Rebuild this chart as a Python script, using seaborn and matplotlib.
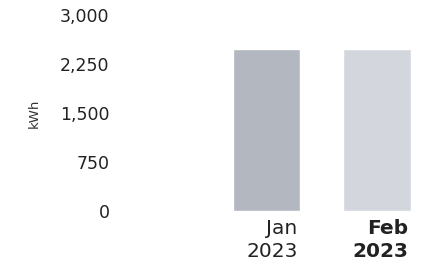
import matplotlib
matplotlib.use("Agg")
import matplotlib.pyplot as plt
import matplotlib.transforms as mtransforms
import seaborn as sns
import pandas as pd

months = ["Jan\n2023", "Feb\n2023"]
usage_kwh = [2480, 2475]
bar_colors = ["#b3b7c0", "#d3d6dd"]
y_ticks = [0, 750, 1500, 2250, 3000]

df = pd.DataFrame({"month": months, "kwh": usage_kwh})

sns.set_theme(style="white")
plt.rcParams["font.family"] = ["DejaVu Sans"]

fig = plt.figure(figsize=(4.21, 2.70), dpi=100)
# axes placed in pixel terms: left 118, right 421, zero line at y=211, 3000 at y=15
ax = fig.add_axes([118 / 421, (270 - 211) / 270, (421 - 118) / 421, (211 - 15) / 270])

sns.barplot(data=df, x="month", y="kwh", hue="month", palette=bar_colors,
            width=0.61, legend=False, ax=ax, saturation=1)

ax.set_ylim(0, 3000)
ax.set_xlim(-1.35, 1.40)
ax.set_yticks(y_ticks)
ax.set_yticklabels([f"{v:,}" for v in y_ticks], fontsize=12.5, color="#222222")
ax.tick_params(axis="y", length=0, pad=6)
ax.tick_params(axis="x", length=0, pad=6)
ax.set_xlabel("")
ax.set_ylabel("kWh", fontsize=9.5, color="#333333", labelpad=14)
for s in ax.spines.values():
    s.set_visible(False)

# x labels right-aligned to the bar's right edge
offset = mtransforms.ScaledTranslation(31 / 100, 0, fig.dpi_scale_trans)
for i, lab in enumerate(ax.get_xticklabels()):
    lab.set_horizontalalignment("right")
    lab.set_fontsize(14.5)
    lab.set_color("#222222")
    lab.set_linespacing(1.25)
    lab.set_transform(lab.get_transform() + offset)
    if i == 1:
        lab.set_fontweight("bold")

fig.savefig("out.png", dpi=100)
